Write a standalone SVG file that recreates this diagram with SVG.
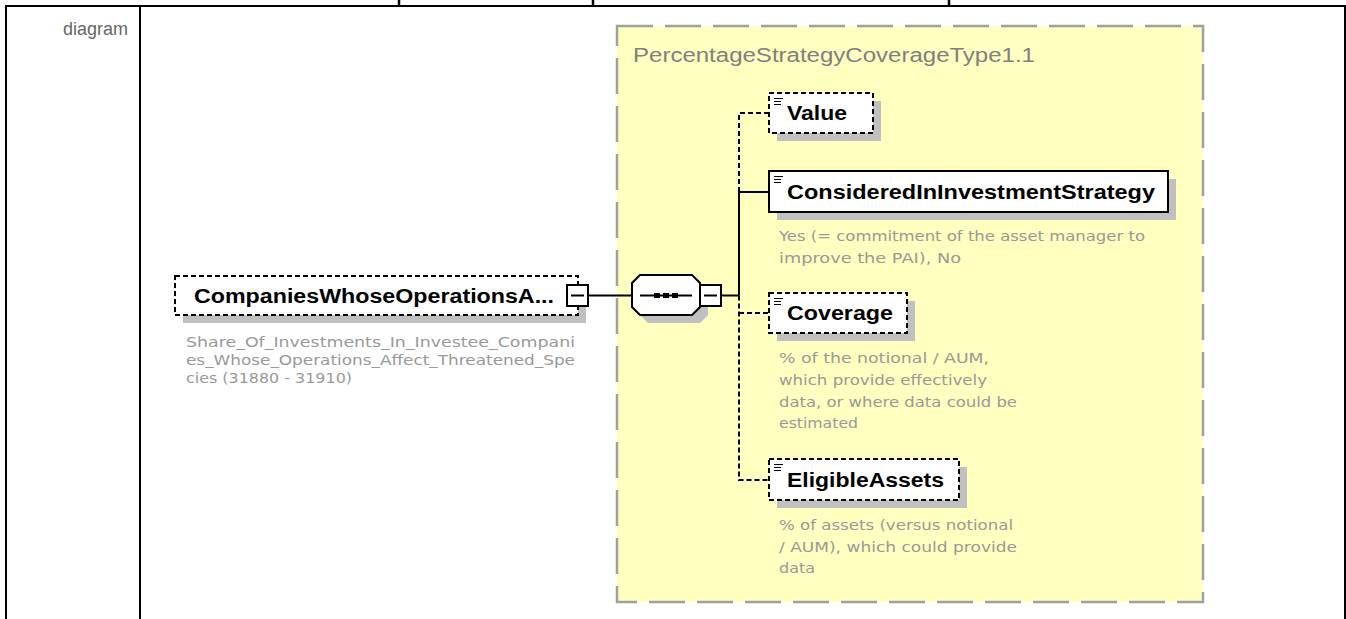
<svg xmlns="http://www.w3.org/2000/svg" width="1346" height="619" viewBox="0 0 1346 619">
<style>
.frame{stroke:#000;stroke-width:2;fill:none}
.name{font-family:"Liberation Sans",Arial,sans-serif;font-weight:bold;font-size:20px;fill:#000}
.desc{font-family:"DejaVu Sans",Tahoma,sans-serif;font-size:14px;fill:#999}
.shadow{fill:#c0c0c0}
.box{fill:#fff;stroke:#000;stroke-width:2}
.opt{stroke-dasharray:5 3}
.line{stroke:#000;stroke-width:2;fill:none}
.dash{stroke-dasharray:5 3}
.icon{stroke:#000;stroke-width:1.2}
</style>
<rect width="1346" height="619" fill="#fff"/>
<g id="table">
<line class="frame" x1="5" y1="6" x2="1346" y2="6"/>
<line class="frame" x1="6" y1="5" x2="6" y2="619"/>
<line class="frame" x1="140" y1="5" x2="140" y2="619"/>
<line class="frame" x1="1345" y1="5" x2="1345" y2="619"/>
<path d="M399,0 V6 M593,0 V6 M949,0 V6" stroke="#000" stroke-width="2.5"/>
<text x="128" y="35" text-anchor="end" font-family="Liberation Sans,Arial,sans-serif" font-size="18" fill="#666">diagram</text>
</g>
<g id="type-box">
<rect x="617" y="26" width="586" height="576" fill="#ffffc0" stroke="#a0a0a0" stroke-width="2.5" stroke-dasharray="36 12"/>
<text x="633" y="62" font-family="Liberation Sans,Arial,sans-serif" font-size="20" fill="#808080" textLength="402" lengthAdjust="spacingAndGlyphs">PercentageStrategyCoverageType1.1</text>
</g>
<g id="connectors">
<line class="line" x1="588" y1="295.5" x2="632" y2="295.5"/>
<line class="line" x1="721" y1="295.5" x2="739" y2="295.5"/>
<path class="line dash" d="M769,113 H739 V192"/>
<path class="line" d="M739,192 V295.5"/>
<line class="line" x1="739" y1="192" x2="769" y2="192"/>
<path class="line dash" d="M739,295.5 V480 H769"/>
<line class="line dash" x1="739" y1="313" x2="769" y2="313"/>
</g>
<g id="root">
<rect class="shadow" x="183" y="284" width="403" height="39"/>
<rect class="box opt" x="175" y="276" width="403" height="39"/>
<text class="name" x="194" y="303" textLength="360" lengthAdjust="spacingAndGlyphs">CompaniesWhoseOperationsA...</text>
<rect class="box" x="567" y="285" width="21" height="21"/>
<line class="line" x1="571" y1="295.5" x2="584" y2="295.5"/>
<text class="desc" x="186" y="347" textLength="389" lengthAdjust="spacingAndGlyphs">Share_Of_Investments_In_Investee_Compani</text>
<text class="desc" x="186" y="365" textLength="389" lengthAdjust="spacingAndGlyphs">es_Whose_Operations_Affect_Threatened_Spe</text>
<text class="desc" x="186" y="383" textLength="166" lengthAdjust="spacingAndGlyphs">cies (31880 - 31910)</text>
</g>
<g id="sequence">
<path class="shadow" d="M648,283 H700 L708,291 V315 L700,323 H648 L640,315 V291 Z"/>
<path d="M640,275 H692 L700,283 V307 L692,315 H640 L632,307 V283 Z" fill="#fff" stroke="#000" stroke-width="2"/>
<line class="line" x1="640" y1="295.5" x2="692" y2="295.5"/>
<rect x="654" y="293" width="6" height="5" fill="#000"/>
<rect x="663" y="293" width="6" height="5" fill="#000"/>
<rect x="672" y="293" width="6" height="5" fill="#000"/>
<rect class="box" x="700" y="285" width="21" height="21"/>
<line class="line" x1="704" y1="295.5" x2="717" y2="295.5"/>
</g>
<g id="value">
<rect class="shadow" x="777" y="101" width="104" height="40"/>
<rect class="box opt" x="769" y="93" width="104" height="40"/>
<path class="icon" d="M774,98.5 H783 M774,101.5 H781 M774,104.5 H781"/>
<text class="name" x="787" y="120" textLength="60" lengthAdjust="spacingAndGlyphs">Value</text>
</g>
<g id="considered">
<rect class="shadow" x="777" y="179" width="399" height="41"/>
<rect class="box" x="769" y="171" width="399" height="41"/>
<path class="icon" d="M774,176.5 H783 M774,179.5 H781 M774,182.5 H781"/>
<text class="name" x="787" y="199" textLength="368" lengthAdjust="spacingAndGlyphs">ConsideredInInvestmentStrategy</text>
<text class="desc" x="779" y="241" textLength="366" lengthAdjust="spacingAndGlyphs">Yes (= commitment of the asset manager to</text>
<text class="desc" x="779" y="263" textLength="182" lengthAdjust="spacingAndGlyphs">improve the PAI), No</text>
</g>
<g id="coverage">
<rect class="shadow" x="777" y="301" width="138" height="40"/>
<rect class="box opt" x="769" y="293" width="138" height="40"/>
<path class="icon" d="M774,298.5 H783 M774,301.5 H781 M774,304.5 H781"/>
<text class="name" x="787" y="320" textLength="106" lengthAdjust="spacingAndGlyphs">Coverage</text>
<text class="desc" x="779" y="363" textLength="210" lengthAdjust="spacingAndGlyphs">% of the notional / AUM,</text>
<text class="desc" x="779" y="385" textLength="208" lengthAdjust="spacingAndGlyphs">which provide effectively</text>
<text class="desc" x="779" y="407" textLength="238" lengthAdjust="spacingAndGlyphs">data, or where data could be</text>
<text class="desc" x="779" y="428" textLength="79" lengthAdjust="spacingAndGlyphs">estimated</text>
</g>
<g id="eligible">
<rect class="shadow" x="777" y="467" width="190" height="41"/>
<rect class="box opt" x="769" y="459" width="190" height="41"/>
<path class="icon" d="M774,464.5 H783 M774,467.5 H781 M774,470.5 H781"/>
<text class="name" x="787" y="487" textLength="157" lengthAdjust="spacingAndGlyphs">EligibleAssets</text>
<text class="desc" x="779" y="530" textLength="234" lengthAdjust="spacingAndGlyphs">% of assets (versus notional</text>
<text class="desc" x="779" y="552" textLength="238" lengthAdjust="spacingAndGlyphs">/ AUM), which could provide</text>
<text class="desc" x="779" y="573" textLength="36" lengthAdjust="spacingAndGlyphs">data</text>
</g>
</svg>
